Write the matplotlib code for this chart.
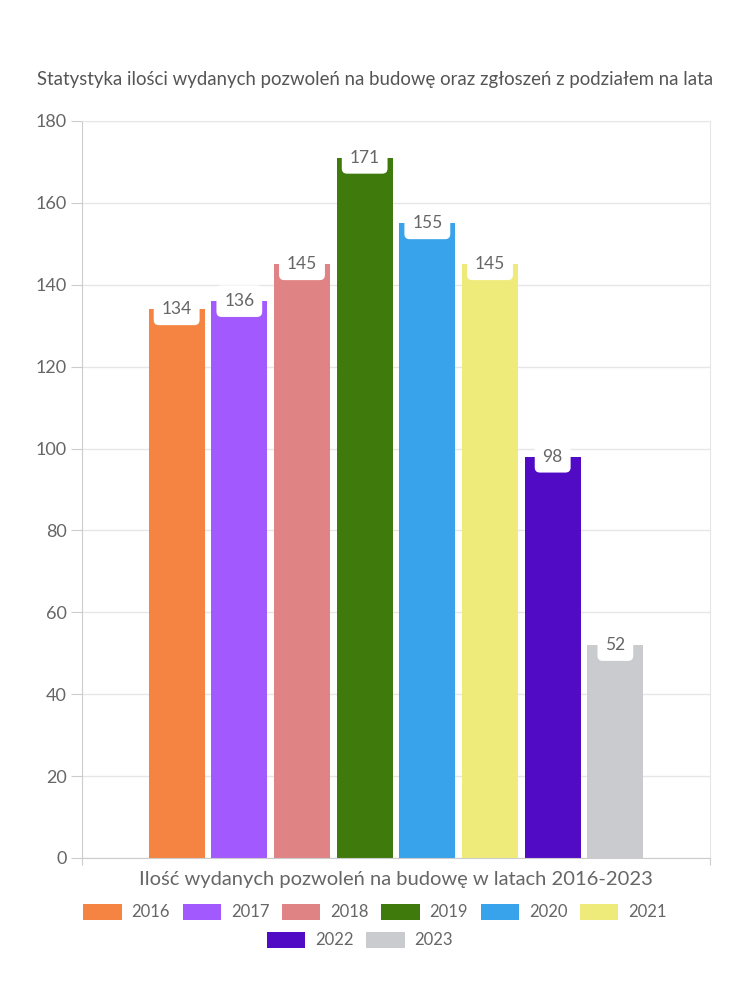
import matplotlib.pyplot as plt
from matplotlib.patches import Patch

years = ['2016', '2017', '2018', '2019', '2020', '2021', '2022', '2023']
permits = [134, 136, 145, 171, 155, 145, 98, 52]
colors = ['#f58442', '#a259fd', '#e08385', '#3e7b0c', '#38a3ea', '#efeb7a', '#520bc5', '#cacbce']
yticks = [0, 20, 40, 60, 80, 100, 120, 140, 160, 180]

title = 'Statystyka ilości wydanych pozwoleń na budowę oraz zgłoszeń z podziałem na lata'
xlabel = 'Ilość wydanych pozwoleń na budowę w latach 2016-2023'

plt.rcParams['font.family'] = ['Lato', 'DejaVu Sans']
txt = '#666666'

fig = plt.figure(figsize=(7.5, 10), dpi=100)
# axes box in pixels: x 82..710, y 121..858
ax = fig.add_axes([82 / 750, 1 - 858 / 1000, 628 / 750, 737 / 1000])

xs = list(range(len(years)))
bars = ax.bar(xs, permits, width=0.893, color=colors, zorder=2)

for x, v in zip(xs, permits):
    ax.annotate(str(v), (x, v), xytext=(0, 0), textcoords='offset points',
                ha='center', va='center', fontsize=12.5, color=txt, zorder=3,
                bbox=dict(boxstyle='round,pad=0.45,rounding_size=0.3', fc='white', ec='none'))

ax.set_xlim(3.5 - 5.01, 3.5 + 5.01)
ax.set_ylim(0, 180)
ax.set_yticks(yticks)
ax.set_xticks([ax.get_xlim()[0], ax.get_xlim()[1]])
ax.set_xticklabels(['', ''])
ax.tick_params(axis='y', colors='#cccccc', labelcolor=txt, labelsize=13, length=8, pad=3)
ax.tick_params(axis='x', colors='#cccccc', length=5)
ax.grid(axis='y', color='#e6e6e6', linewidth=1, zorder=0)
for s in ['left', 'bottom']:
    ax.spines[s].set_color('#cccccc')
for s in ['top', 'right']:
    ax.spines[s].set_color('#e6e6e6')

fig.text(375 / 750, 1 - 80 / 1000, title, ha='center', va='center', fontsize=13.4, color='#555555')
fig.text(396 / 750, 1 - 879 / 1000, xlabel, ha='center', va='center', fontsize=14.5, color=txt)

handles = [Patch(facecolor=c, label=y) for c, y in zip(colors, years)]
leg_kw = dict(loc='center', ncol=6, frameon=False, fontsize=12, labelcolor=txt,
              handlelength=2.3, handleheight=1.1, handletextpad=0.6, columnspacing=0.75)
fig.legend(handles=handles[:6], bbox_to_anchor=(375 / 750, 1 - 912 / 1000), **leg_kw)
leg_kw['ncol'] = 2
fig.legend(handles=handles[6:], bbox_to_anchor=(360 / 750, 1 - 940 / 1000), **leg_kw)

fig.savefig('out.png', dpi=100, facecolor='white')
